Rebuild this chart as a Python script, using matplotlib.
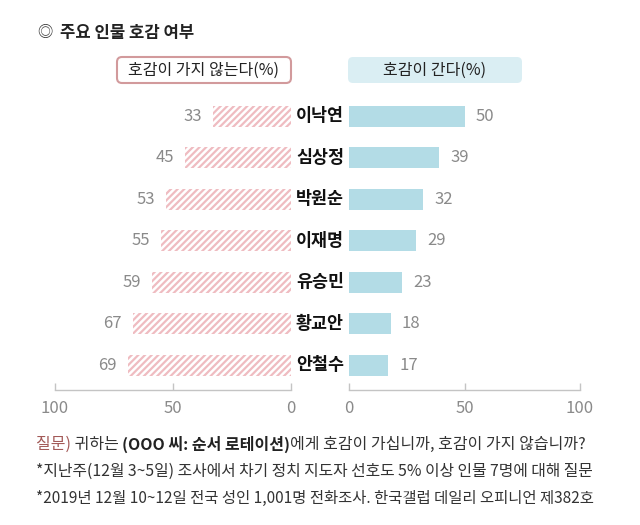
import matplotlib
matplotlib.use("Agg")
import matplotlib.pyplot as plt
from matplotlib.patches import FancyBboxPatch
from matplotlib.transforms import blended_transform_factory

plt.rcParams['font.family'] = ['Noto Sans CJK KR', 'DejaVu Sans']
plt.rcParams['hatch.linewidth'] = 1.6

names = ["이낙연", "심상정", "박원순", "이재명", "유승민", "황교안", "안철수"]
dislike = [33, 45, 53, 55, 59, 67, 69]
like = [50, 39, 32, 29, 23, 18, 17]
ticks = [0, 50, 100]

title = "주요 인물 호감 여부"
head_left = "호감이 가지 않는다(%)"
head_right = "호감이 간다(%)"
q_parts = [("질문)", "#a35a58", "normal"), (" 귀하는 ", "#333333", "normal"),
           ("(OOO 씨: 순서 로테이션)", "#222222", "bold"),
           ("에게 호감이 가십니까, 호감이 가지 않습니까?", "#333333", "normal")]
note1 = "*지난주(12월 3~5일) 조사에서 차기 정치 지도자 선호도 5% 이상 인물 7명에 대해 질문"
note2 = "*2019년 12월 10~12일 전국 성인 1,001명 전화조사. 한국갤럽 데일리 오피니언 제382호"

PINK = "#efbcc1"
BLUE = "#b3dce6"
GRAY = "#8a8a8a"
SPINE = "#c4c4c4"

W, H = 640, 525
fig = plt.figure(figsize=(W/100, H/100), dpi=100)
fig.patch.set_facecolor("white")

bot = 1 - 390/H
hgt = 295/H
axL = fig.add_axes([55/W, bot, 236/W, hgt])
axR = fig.add_axes([349/W, bot, 231/W, hgt])

ypos = list(range(len(names)))
for ax in (axL, axR):
    ax.set_ylim(6.602, -0.506)
    for s in ("top", "left", "right"):
        ax.spines[s].set_visible(False)
    ax.spines["bottom"].set_color(SPINE)
    ax.spines["bottom"].set_linewidth(1.0)
    ax.set_yticks([])
    ax.set_xticks(ticks)
    ax.tick_params(axis="x", direction="in", length=5, width=1.0, color=SPINE,
                   labelcolor=GRAY, labelsize=12, pad=7)
    ax.set_facecolor("none")

axL.set_xlim(100, 0)
axR.set_xlim(0, 100)

axL.barh(ypos, dislike, height=0.506, color="white", edgecolor=PINK,
         hatch="/////", linewidth=0)
axR.barh(ypos, like, height=0.506, color=BLUE, linewidth=0)

for i, v in enumerate(dislike):
    axL.annotate(str(v), (v, i), xytext=(-8, 0), textcoords="offset points",
                 ha="right", va="center", fontsize=12, color=GRAY)
for i, v in enumerate(like):
    axR.annotate(str(v), (v, i), xytext=(8, 0), textcoords="offset points",
                 ha="left", va="center", fontsize=12, color=GRAY)

tr = blended_transform_factory(fig.transFigure, axL.transData)
for i, n in enumerate(names):
    axL.text(320/W, i, n, transform=tr, ha="center", va="center",
             fontsize=12.5, fontweight="bold", color="#111111", clip_on=False)

# headers
boxL = FancyBboxPatch((1.17, (H-83)/100), 1.74, 0.26,
                      boxstyle="round,pad=0,rounding_size=0.05",
                      transform=fig.dpi_scale_trans, facecolor="white",
                      edgecolor="#d29a9c", linewidth=1.5)
boxR = FancyBboxPatch((3.48, (H-83)/100), 1.74, 0.26,
                      boxstyle="round,pad=0,rounding_size=0.05",
                      transform=fig.dpi_scale_trans, facecolor="#daeef3",
                      edgecolor="none")
fig.patches.extend([boxL, boxR])
fig.text((117+291)/2/W, 1-70/H, head_left, ha="center", va="center",
         fontsize=11.5, color="#222222", fontweight="medium")
fig.text((348+522)/2/W, 1-70/H, head_right, ha="center", va="center",
         fontsize=11.5, color="#222222", fontweight="medium")

# title
fig.text(37/W, 1-33/H, "◎", ha="left", va="center", fontsize=11, color="#333333")
fig.text(60/W, 1-33/H, title, ha="left", va="center", fontsize=12,
         fontweight="bold", color="#222222")

# question line with mixed styles
renderer = fig.canvas.get_renderer()
x = 36
for txt, col, wt in q_parts:
    t = fig.text(x/W, 1-444/H, txt, ha="left", va="center", fontsize=11.5,
                 color=col, fontweight=wt)
    bb = t.get_window_extent(renderer=renderer)
    x += bb.width

fig.text(36/W, 1-471/H, note1, ha="left", va="center", fontsize=11.4, color="#333333")
fig.text(36/W, 1-498/H, note2, ha="left", va="center", fontsize=11.1, color="#333333")

fig.savefig("out.png", dpi=100, facecolor="white")
